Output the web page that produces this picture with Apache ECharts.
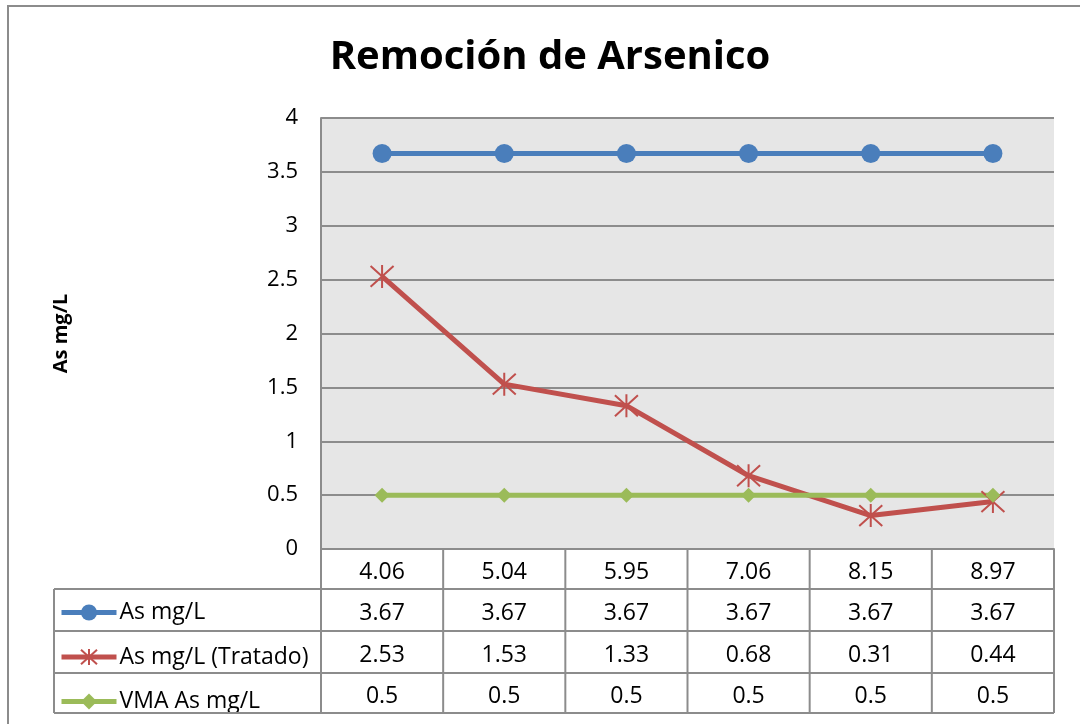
<!DOCTYPE html>
<html>
<head>
<meta charset="utf-8">
<script src="https://cdn.jsdelivr.net/npm/echarts@6/dist/echarts.min.js"></script>
<style>
  html, body { margin: 0; background: #fff; }
  #chart { width: 1080px; height: 724px; }
</style>
</head>
<body>
<div id="chart"></div>
<script>
// data
const phValues = ["4.06", "5.04", "5.95", "7.06", "8.15", "8.97"];
const asInicial = [3.67, 3.67, 3.67, 3.67, 3.67, 3.67];
const asTratado = [2.53, 1.53, 1.33, 0.68, 0.31, 0.44];
const vmaAs = [0.5, 0.5, 0.5, 0.5, 0.5, 0.5];
const seriesNames = ["As mg/L", "As mg/L (Tratado)", "VMA As mg/L"];
const tableRows = [asInicial, asTratado, vmaAs];

const FONT = "Open Sans";
const GRID_LEFT = 321, GRID_RIGHT = 1054, GRID_TOP = 118, GRID_BOTTOM = 549;
const ROW_LINES = [549, 589, 631, 673, 713]; // table borders
const LEGEND_LEFT = 54;
const LINE_COLOR = "#8c8c8c";

const chart = echarts.init(document.getElementById("chart"));

const starPath = "path://M0,0L20,20M20,0L0,20M10,-1L10,21";

const option = {
  animation: false,
  backgroundColor: "#fff",
  title: {
    text: "Remoción de Arsenico",
    left: 545,
    top: 33,
    textAlign: "center",
    textStyle: { fontFamily: FONT, fontWeight: "bold", fontSize: 40, color: "#000" }
  },
  grid: {
    left: GRID_LEFT,
    right: 1080 - GRID_RIGHT,
    top: GRID_TOP,
    bottom: 724 - GRID_BOTTOM,
    show: true,
    backgroundColor: "#e6e6e6",
    borderWidth: 0
  },
  legend: {
    data: seriesNames,
    orient: "vertical",
    left: 59,
    top: 601,
    padding: 0,
    itemWidth: 55,
    itemHeight: 20,
    itemGap: 21.5,
    lineStyle: { width: 5 },
    textStyle: { fontFamily: FONT, fontSize: 23, color: "#000", padding: [0, 0, 0, -2] }
  },
  xAxis: {
    type: "category",
    data: phValues,
    boundaryGap: true,
    axisLine: { show: true, lineStyle: { color: LINE_COLOR, width: 2 } },
    axisTick: { show: false },
    axisLabel: { show: false },
    splitLine: { show: false }
  },
  yAxis: {
    type: "value",
    min: 0,
    max: 4,
    interval: 0.5,
    name: "As mg/L",
    nameLocation: "middle",
    nameRotate: 90,
    nameGap: 250,
    nameTextStyle: { fontFamily: FONT, fontWeight: "bold", fontSize: 20, color: "#000" },
    axisLine: { show: true, lineStyle: { color: LINE_COLOR, width: 2 } },
    axisTick: { show: false },
    axisLabel: { margin: 23, fontFamily: FONT, fontSize: 22, color: "#000" },
    splitLine: { lineStyle: { color: LINE_COLOR, width: 2 } }
  },
  series: [
    {
      name: seriesNames[0],
      type: "line",
      data: asInicial,
      symbol: "circle",
      symbolSize: 19,
      lineStyle: { color: "#4a7ebb", width: 5 },
      itemStyle: { color: "#4a7ebb" }
    },
    {
      name: seriesNames[1],
      type: "line",
      data: asTratado,
      symbol: starPath,
      symbolSize: 23,
      lineStyle: { color: "#c0504d", width: 5 },
      itemStyle: { color: "#c0504d", borderColor: "#c0504d", borderWidth: 2 }
    },
    {
      name: seriesNames[2],
      type: "line",
      data: vmaAs,
      symbol: "diamond",
      symbolSize: 15,
      lineStyle: { color: "#9bbb59", width: 5 },
      itemStyle: { color: "#9bbb59" }
    }
  ]
};

chart.setOption(option);

// data table under the plot, built from the arrays above
function buildTable() {
  const els = [];
  const n = phValues.length;
  const band = (GRID_RIGHT - GRID_LEFT) / n;
  const lineStyle = { stroke: LINE_COLOR, lineWidth: 2 };
  const textOffset = 3;
  // horizontal borders
  ROW_LINES.forEach((y, i) => {
    if (i === 0) return;
    els.push({ type: "line", shape: { x1: LEGEND_LEFT, y1: y, x2: GRID_RIGHT, y2: y }, style: lineStyle, z: 10 });
  });
  // vertical borders
  els.push({ type: "line", shape: { x1: LEGEND_LEFT, y1: ROW_LINES[1], x2: LEGEND_LEFT, y2: ROW_LINES[4] }, style: lineStyle, z: 10 });
  for (let k = 0; k <= n; k++) {
    const x = GRID_LEFT + k * band;
    els.push({ type: "line", shape: { x1: x, y1: ROW_LINES[0], x2: x, y2: ROW_LINES[4] }, style: lineStyle, z: 10 });
  }
  // category row + value rows
  phValues.forEach((cat, i) => {
    const cx = chart.convertToPixel({ xAxisIndex: 0 }, i);
    els.push({
      type: "text", x: cx, y: (ROW_LINES[0] + ROW_LINES[1]) / 2 + textOffset, z: 11,
      style: { text: cat, fontFamily: FONT, fontSize: 23, fill: "#000", align: "center", verticalAlign: "middle" }
    });
    tableRows.forEach((row, r) => {
      els.push({
        type: "text", x: cx, y: (ROW_LINES[r + 1] + ROW_LINES[r + 2]) / 2 + textOffset, z: 11,
        style: { text: String(row[i]), fontFamily: FONT, fontSize: 23, fill: "#000", align: "center", verticalAlign: "middle" }
      });
    });
  });
  // outer chart border
  els.push({ type: "rect", shape: { x: 8, y: 6, width: 1200, height: 900 }, style: { fill: "none", stroke: LINE_COLOR, lineWidth: 2 }, z: 0 });
  chart.setOption({ graphic: els });
}
buildTable();
</script>
</body>
</html>
